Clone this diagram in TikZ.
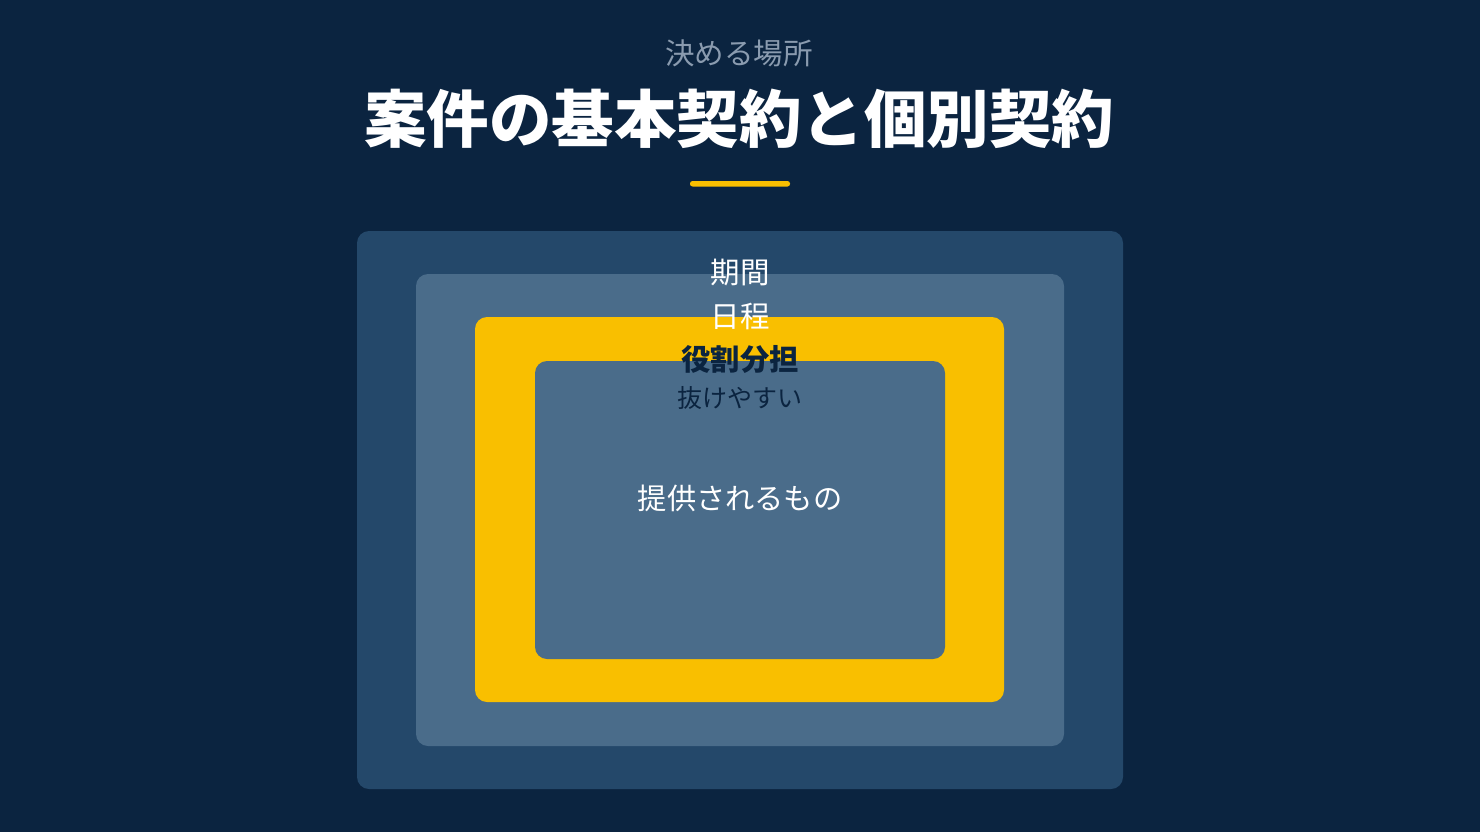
\documentclass[tikz,border=0pt]{standalone}
\usepackage{fontspec}
\newfontfamily\cjk{Noto Sans CJK JP}
\definecolor{bgnavy}{HTML}{0B2440}
\definecolor{outerblue}{HTML}{24486A}
\definecolor{midblue}{HTML}{4A6C8A}
\definecolor{gold}{HTML}{F9BF00}
\definecolor{subgray}{HTML}{8A9BAF}
\definecolor{darktext}{HTML}{0B2440}
\tikzset{
  layer/.style={rounded corners=12pt, draw=none},
  lbl/.style={font=\cjk, inner sep=0pt, anchor=center},
}
\begin{document}
\begin{tikzpicture}[x=1pt,y=-1pt]
\fill[bgnavy] (0,0) rectangle (1480,832);
\useasboundingbox (0,0) rectangle (1480,832);
% layers
\fill[layer, outerblue] (357,231) rectangle (1123,789);
\node[inner sep=0pt] (outer) at (740,510) {};
\fill[layer, midblue] (416,274) rectangle (1064,746);
\node[inner sep=0pt] (mid) at (740,510) {};
\fill[layer, gold] (475,317) rectangle (1004,702);
\node[inner sep=0pt] (yel) at (740,510) {};
\fill[layer, midblue] (535,361) rectangle (945,659);
\node[inner sep=0pt] (inner) at (740,510) {};
% titles
\node[lbl, text=subgray, font=\cjk\fontsize{29.5}{32}\selectfont] (sub) at (739,53) {決める場所};
\node[lbl, text=white, font=\cjk\bfseries\fontsize{62.5}{70}\selectfont] (title) at (739,119) {案件の基本契約と個別契約};
\fill[gold, rounded corners=2.5pt] (690,181) rectangle (790,186.5);
% labels
\node[lbl, text=white, font=\cjk\fontsize{29.5}{32}\selectfont] (kikan) at (740,273) {期間};
\node[lbl, text=white, font=\cjk\fontsize{29.5}{32}\selectfont] (nittei) at (740,316) {日程};
\node[lbl, text=darktext, font=\cjk\bfseries\fontsize{29.3}{32}\selectfont] (yakuwari) at (740,359) {役割分担};
\node[lbl, text=darktext, font=\cjk\fontsize{25}{28}\selectfont] (nuke) at (740,398) {抜けやすい};
\node[lbl, text=white, font=\cjk\fontsize{29.2}{32}\selectfont] (teikyo) at (740,498) {提供されるもの};
\end{tikzpicture}
\end{document}
